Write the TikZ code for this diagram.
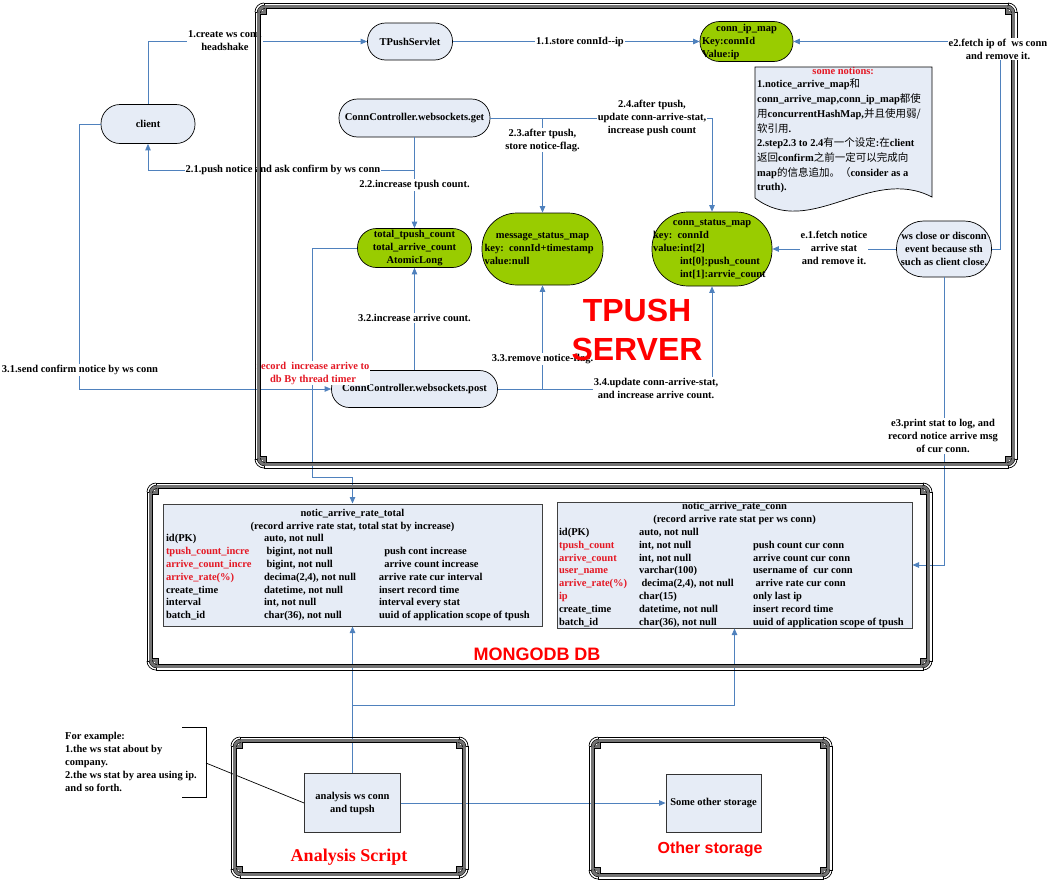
\documentclass[tikz,border=0pt]{standalone}
\usepackage{fontspec}
\setmainfont{Liberation Serif}
\newfontfamily\arialf{Liberation Sans}
\newfontfamily\cjk{Noto Sans CJK SC}
\usetikzlibrary{arrows.meta,calc}
\definecolor{procfill}{RGB}{230,236,246}
\definecolor{mapgreen}{RGB}{153,204,0}
\definecolor{linkblue}{RGB}{79,129,189}
\definecolor{redtxt}{RGB}{255,0,0}
\definecolor{tred}{RGB}{228,24,36}
\definecolor{framegray}{RGB}{115,115,115}
\newcommand\zh[1]{{\cjk\mdseries #1}}
\newcommand\rr[1]{\textcolor{tred}{#1}}
\newcommand\trow[5]{\makebox[#1][l]{#3}\makebox[#2][l]{#4}#5}
\newcommand\fdraw[6]{%
 \draw[#1] ({#2+#6},{#3}) -- ({#4-#6},{#3}) -- ({#4-#6},{#3+#6}) -- ({#4},{#3+#6}) -- ({#4},{#5-#6}) -- ({#4-#6},{#5-#6}) -- ({#4-#6},{#5}) -- ({#2+#6},{#5}) -- ({#2+#6},{#5-#6}) -- ({#2},{#5-#6}) -- ({#2},{#3+#6}) -- ({#2+#6},{#3+#6}) -- cycle;
 \draw[#1] ({#2},{#3+#6}) arc[start angle=180,end angle=270,radius=#6]
   ({#4-#6},{#3}) arc[start angle=270,end angle=360,radius=#6]
   ({#4},{#5-#6}) arc[start angle=0,end angle=90,radius=#6]
   ({#2+#6},{#5}) arc[start angle=90,end angle=180,radius=#6];}
\newcommand\vframe[4]{\fdraw{fline}{#1}{#2}{#3}{#4}{9}\fdraw{fband}{#1+3.8}{#2+3.8}{#3-3.8}{#4-3.8}{6}}
\tikzset{
 txt/.style={font=\bfseries\fontsize{10.5}{13}\selectfont},
 every node/.style={txt, inner sep=0pt},
 stadium/.style={draw=black, line width=0.7pt, rounded corners=#1},
 proc/.style={stadium=#1, fill=procfill},
 mapn/.style={stadium=#1, fill=mapgreen},
 tbl/.style={draw=black!75, line width=1pt, fill=procfill, align=left, font=\bfseries\fontsize{10.5}{12.8}\selectfont},
 conn/.style={draw=linkblue, line width=0.8pt, -{Triangle[length=6.5pt,width=5.5pt]}},
 lbl/.style={fill=white, align=center, inner sep=1pt},
 fline/.style={draw=black, line width=0.7pt},
 fband/.style={draw=black, line width=0.6pt, double=framegray, double distance=2.8pt},
}
\begin{document}
\begin{tikzpicture}[x=1pt,y=-1pt]
\useasboundingbox (0,0) rectangle (1051,881);
% ---------- nodes ----------
\node[proc=19, minimum width=94pt, minimum height=39pt] (client) at (148,124) {client};
\node[proc=18, minimum width=85pt, minimum height=37pt] (servlet) at (410,41.5) {TPushServlet};
\node[mapn=19.5, minimum width=93pt, minimum height=40pt, align=left] (ipmap) at (746.5,41.5)
  {\makebox[89pt][c]{conn\_ip\_map}\\Key:connId\\Value:ip};
\node[proc=18.5, minimum width=151pt, minimum height=38pt] (get) at (414.5,118) {ConnController.websockets.get};
\node[mapn=19, minimum width=114pt, minimum height=39pt, align=center] (total) at (414.5,248)
  {total\_tpush\_count\\total\_arrive\_count\\AtomicLong};
\node[mapn=35, minimum width=121pt, minimum height=72pt, align=left] (msg) at (542.5,249)
  {\makebox[116pt][c]{message\_status\_map}\\key:\ \ connId+timestamp\\value:null};
\node[mapn=36, minimum width=120pt, minimum height=74pt, align=left] (cstat) at (712,249)
  {\makebox[118pt][c]{conn\_status\_map}\\key:\ \ connId\\value:int[2]\\\hspace*{27pt}int[0]:push\_count\\\hspace*{27pt}int[1]:arrvie\_count};
\node[proc=27, minimum width=95pt, minimum height=56pt, align=center] (wsclose) at (944,249)
  {ws close or disconn\\event because sth\\such as client close.};
\node[proc=18, minimum width=166pt, minimum height=37pt] (post) at (414.5,389) {ConnController.websockets.post};
% note (document shape)
\draw[draw=black, line width=0.7pt, fill=procfill] (755,67) -- (932,67) -- (932,197)
  .. controls (870,165) and (810,240) .. (755,198) -- cycle;
\node[anchor=north west, align=left, font=\bfseries\fontsize{10.5}{14.7}\selectfont] (note) at (757,67.5)
  {\makebox[172pt][c]{\rr{some notions:}}\\[-1.7pt]
   1.notice\_arrive\_map\zh{和}\\
   conn\_arrive\_map,conn\_ip\_map\zh{都使}\\
   \zh{用}concurrentHashMap,\zh{并且使用弱/}\\
   \zh{软引用}.\\
   2.step2.3 to 2.4\zh{有一个设定}:\zh{在}client\\
   \zh{返回}confirm\zh{之前一定可以完成向}\\
   map\zh{的信息追加。（}consider as a\\
   truth).};
% tables
\node[tbl, minimum width=379pt, minimum height=122pt, inner xsep=3pt] (tabtotal) at (352.5,565)
  {\makebox[373pt][c]{notic\_arrive\_rate\_total}\\
   \makebox[373pt][c]{(record arrive rate stat, total stat by increase)}\\
   \trow{98pt}{115pt}{id(PK)}{auto, not null}{}\\
   \trow{98pt}{115pt}{\rr{tpush\_count\_incre}}{\ bigint, not null}{\ \ push cont increase}\\
   \trow{98pt}{115pt}{\rr{arrive\_count\_incre}}{\ bigint, not null}{\ \ arrive count increase}\\
   \trow{98pt}{115pt}{\rr{arrive\_rate(\%)}}{decima(2,4), not null}{arrive rate cur interval}\\
   \trow{98pt}{115pt}{create\_time}{datetime, not null}{insert record time}\\
   \trow{98pt}{115pt}{interval}{int, not null}{interval every stat}\\
   \trow{98pt}{115pt}{batch\_id}{char(36), not null}{uuid of application scope of tpush}};
\node[tbl, minimum width=355pt, minimum height=126pt, inner xsep=2pt] (tabconn) at (734.5,565)
  {\makebox[351pt][c]{notic\_arrive\_rate\_conn}\\
   \makebox[351pt][c]{(record arrive rate stat per ws conn)}\\
   \trow{80pt}{114pt}{id(PK)}{auto, not null}{}\\
   \trow{80pt}{114pt}{\rr{tpush\_count}}{int, not null}{push count cur conn}\\
   \trow{80pt}{114pt}{\rr{arrive\_count}}{int, not null}{arrive count cur conn}\\
   \trow{80pt}{114pt}{\rr{user\_name}}{varchar(100)}{username of \ cur conn}\\
   \trow{80pt}{114pt}{\rr{arrive\_rate(\%)}}{\ decima(2,4), not null}{\ arrive rate cur conn}\\
   \trow{80pt}{114pt}{\rr{ip}}{char(15)}{only last ip}\\
   \trow{80pt}{114pt}{create\_time}{datetime, not null}{insert record time}\\
   \trow{80pt}{114pt}{batch\_id}{char(36), not null}{uuid of application scope of tpush}};
\node[draw=black!80, line width=0.8pt, fill=procfill, minimum width=96pt, minimum height=59pt, align=center] (ana) at (352.5,803)
  {analysis ws conn\\and tupsh};
\node[draw=black!80, line width=0.8pt, fill=procfill, minimum width=95pt, minimum height=58pt] (other) at (713.5,803)
  {Some other storage};
\node[align=left, anchor=west] (ex) at (65,762)
  {For example:\\1.the ws stat about by\\company.\\2.the ws stat by area using ip.\\and so forth.};
\draw[black, line width=0.7pt] (182,727) -- (206,727) -- (206,797) -- (182,797);
\coordinate (brk) at (206,763);
\draw[black, line width=0.7pt] (brk) -- (ana.west);
% ---------- connectors ----------
\draw[conn] (client.north) |- (servlet.west);
\draw[conn] (servlet.east) -- (ipmap.west);
\draw[conn] (wsclose.east) -- ++(8.5,0) |- (ipmap.east);
\draw[conn] (get.south) -- (total.north);
\draw[conn] (get.south) -- ++(0,33) -| (client.south);
\draw[conn] (get.east) -| (msg.north);
\draw[conn] (get.east) -| (cstat.north);
\draw[conn] (wsclose.west) -- (cstat.east);
\draw[conn] (wsclose.south) |- (tabconn.east);
\draw[conn] (client.west) -- ++(-21,0) |- (post.west);
\draw[conn] (post.north) -- (total.south);
\draw[conn] (post.east) -| (msg.south);
\draw[conn] (post.east) -| (cstat.south);
\draw[conn] (total.west) -- ++(-44.5,0) -- ++(0,229) -| (tabtotal.north);
\draw[conn] (ana.north) -- (tabtotal.south);
\draw[conn] (ana.north) -- ++(0,-68) -| (tabconn.south);
\draw[conn] (ana.east) -- (other.west);
% ---------- labels ----------
\node[lbl] (l1) at (225,41) {1.create ws conn\\headshake};
\node[lbl] (l11) at (580,41.5) {1.1.store connId{-}{-}ip};
\node[lbl] (l21) at (283,170) {2.1.push notice and ask confirm by ws conn};
\node[lbl] (l22) at (414.5,185) {2.2.increase tpush count.};
\node[lbl] (l23) at (542.5,140) {2.3.after tpush,\\store notice-flag.};
\node[lbl] (l24) at (652,118) {2.4.after tpush,\\update conn-arrive-stat,\\increase push count};
\node[lbl] (le1) at (834,248) {e.1.fetch notice\\arrive stat\\and remove it.};
\node[lbl] (l31) at (80,370) {3.1.send confirm notice by ws conn};
\node[lbl] (l32) at (414.5,318) {3.2.increase arrive count.};
\node[lbl] (l33) at (542.5,359) {3.3.remove notice-flag.};
\node[lbl] (l34) at (656,388) {3.4.update conn-arrive-stat,\\and increase arrive count.};
\node[lbl, text=tred] (lrec) at (313,373) {record \ increase arrive to\\db By thread timer};
\node[lbl] (le3) at (943,436) {e3.print stat to log, and\\record notice arrive msg\\of cur conn.};
% ---------- big titles ----------
\node[font=\arialf\bfseries\fontsize{32}{39}\selectfont, text=redtxt, align=center] (tps) at (637,329.5) {TPUSH\\SERVER};
\node[font=\arialf\bfseries\fontsize{18}{20}\selectfont, text=redtxt, anchor=base] (mdb) at (537,660.5) {MONGODB DB};
\node[font=\bfseries\fontsize{18}{20}\selectfont, text=redtxt, anchor=base] (ast) at (349,861) {Analysis Script};
\node[font=\arialf\bfseries\fontsize{16}{18}\selectfont, text=redtxt, anchor=base] (ost) at (710,853.5) {Other storage};
% ---------- frames ----------
\vframe{255}{3}{1017}{468}
\vframe{147}{483}{932}{670}
\vframe{231}{737}{468}{878}
\vframe{589}{737}{832}{879}
\node[lbl] (le2) at (998,49) {e2.fetch ip of \ ws conn\\and remove it.};
\end{tikzpicture}
\end{document}
